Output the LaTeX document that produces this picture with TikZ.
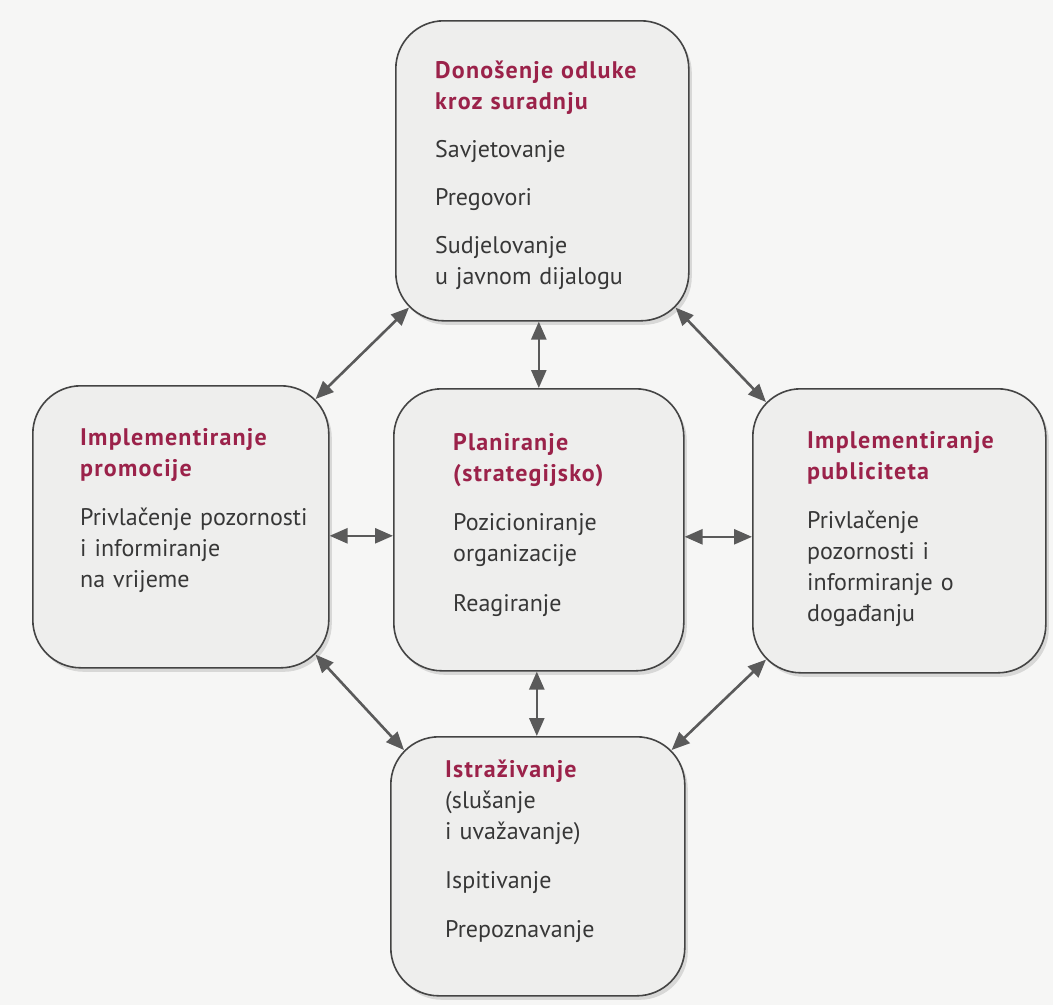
\documentclass[tikz,border=0pt]{standalone}
\usepackage{fontspec}
\setmainfont{PT Sans}
\usetikzlibrary{arrows.meta,calc,shadows}
\definecolor{bg}{RGB}{246,246,245}
\definecolor{boxfill}{RGB}{238,238,237}
\definecolor{edge}{RGB}{68,68,68}
\definecolor{arrowc}{RGB}{90,90,90}
\definecolor{titlec}{RGB}{155,34,74}
\definecolor{bodyc}{RGB}{55,55,55}
\newcommand\ttl[1]{{\bfseries\addfontfeatures{LetterSpace=5}\color{titlec}#1}}
\begin{document}
\begin{tikzpicture}[x=1pt,y=-1pt,
  card/.style={draw=edge,line width=1.6pt,fill=boxfill,rounded corners=48pt,
    anchor=north west,inner sep=0pt,
    drop shadow={shadow xshift=3pt,shadow yshift=-4pt,opacity=0.12,fill=black}},
  txt/.style={anchor=base west,align=left,inner sep=0pt,text width=240pt,
    font=\fontsize{24}{31}\selectfont,text=bodyc},
  arr/.style={draw=arrowc,line width=2.6pt,
    {Triangle[length=18pt,width=15pt]}-{Triangle[length=18pt,width=15pt]}},
]
\useasboundingbox (0,0) rectangle (1053,1005);
\fill[bg] (0,0) rectangle (1053,1005);

% boxes
\node[card,minimum width=293pt,minimum height=300pt] (top) at (395,20) {};
\node[card,minimum width=290pt,minimum height=282pt] (ctr) at (393,388) {};
\node[card,minimum width=296pt,minimum height=282pt] (lft) at (32,385) {};
\node[card,minimum width=293pt,minimum height=284pt] (rgt) at (752,388) {};
\node[card,minimum width=294pt,minimum height=259pt] (bot) at (390,736) {};

% texts
\node[txt] (toptxt) at ($(top.north west)+(40,58)$)
  {\ttl{Donošenje odluke}\\\ttl{kroz suradnju}\\[17pt]
   Savjetovanje\\[17pt]Pregovori\\[17pt]Sudjelovanje\\u javnom dijalogu};
\node[txt] (ctrtxt) at ($(ctr.north west)+(60,62)$)
  {\ttl{Planiranje}\\\ttl{(strategijsko)}\\[18pt]
   Pozicioniranje\\organizacije\\[19pt]Reagiranje};
\node[txt] (lfttxt) at ($(lft.north west)+(48,60)$)
  {\ttl{Implementiranje}\\\ttl{promocije}\\[18pt]
   Privlačenje pozornosti\\i informiranje\\na vrijeme};
\node[txt] (rgttxt) at ($(rgt.north west)+(55,60)$)
  {\ttl{Implementiranje}\\\ttl{publiciteta}\\[18pt]
   Privlačenje\\pozornosti i\\informiranje o\\događanju};
\node[txt] (bottxt) at ($(bot.north west)+(55,41)$)
  {\ttl{Istraživanje}\\(slušanje\\i uvažavanje)\\[18pt]
   Ispitivanje\\[18pt]Prepoznavanje};

% connector end points
\coordinate (cw) at ([yshift=-6pt]ctr.west);
\coordinate (ce) at ([yshift=-7pt]ctr.east);
\coordinate (cs) at ([xshift=-2pt]ctr.south);

% connectors
\draw[arr] ([xshift=-14pt,yshift=-14pt]lft.north east) -- ([xshift=14pt,yshift=14pt]top.south west);
\draw[arr] (ctr.north |- top.south) -- (ctr.north);
\draw[arr] ([xshift=-14pt,yshift=14pt]top.south east) -- ([xshift=14pt,yshift=-14pt]rgt.north west);
\draw[arr] (lft.east |- cw) -- (cw);
\draw[arr] (ce) -- (rgt.west |- ce);
\draw[arr] (cs) -- (cs |- bot.north);
\draw[arr] ([xshift=-14pt,yshift=14pt]lft.south east) -- ([xshift=14pt,yshift=-14pt]bot.north west);
\draw[arr] ([xshift=-14pt,yshift=-14pt]bot.north east) -- ([xshift=14pt,yshift=14pt]rgt.south west);
\end{tikzpicture}
\end{document}
